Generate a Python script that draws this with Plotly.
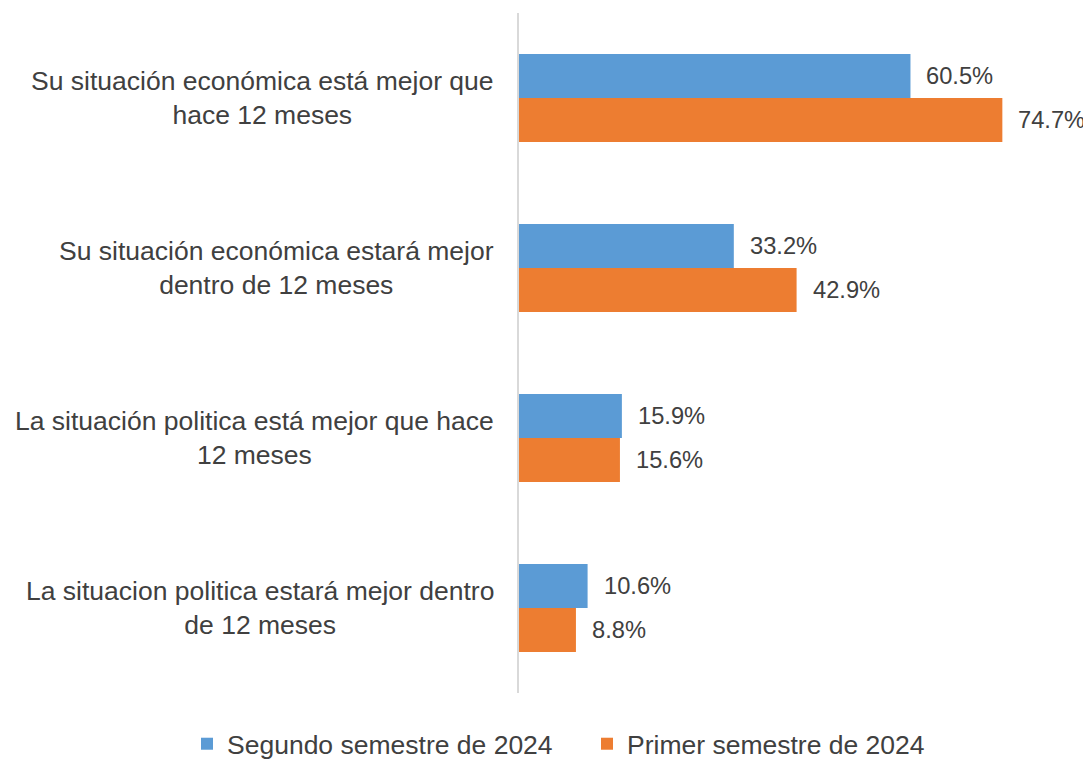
import plotly.graph_objects as go

categories = [
    "Su situación económica está mejor que<br>hace 12 meses",
    "Su situación económica estará mejor<br>dentro de 12 meses",
    "La situación politica está mejor que hace<br>12 meses",
    "La situacion politica estará mejor dentro<br>de 12 meses",
]
series_names = ["Segundo semestre de 2024", "Primer semestre de 2024"]
segundo = [60.5, 33.2, 15.9, 10.6]
primer = [74.7, 42.9, 15.6, 8.8]
colors = ["#5B9BD5", "#ED7D31"]

FONT = "Liberation Sans"
TEXT_COLOR = "#404040"
W, H = 1083, 753  # page body has an 8px margin

fig = go.Figure()
for i, (name, vals, col) in enumerate(zip(series_names, [segundo, primer], colors)):
    fig.add_trace(go.Bar(
        y=categories, x=vals, name=name, orientation="h",
        marker=dict(color=col, line=dict(width=0)),
        legend="legend" if i == 0 else "legend2",
    ))

annotations = []
for c in categories:
    annotations.append(dict(
        xref="paper", x=0, yref="y", y=c, text=c, showarrow=False,
        xanchor="right", align="center", xshift=-23,
        font=dict(family=FONT, size=26.5, color=TEXT_COLOR),
    ))
for vals, shift in zip([segundo, primer], [22, -22]):
    for c, v in zip(categories, vals):
        annotations.append(dict(
            xref="x", x=v, yref="y", y=c, text=f"{v:.1f}%", showarrow=False,
            xanchor="left", xshift=14, yshift=shift,
            font=dict(family=FONT, size=23.7, color=TEXT_COLOR),
        ))

legend_common = dict(orientation="h", xref="container", yref="container",
                     yanchor="middle", y=17 / H, xanchor="left",
                     font=dict(family=FONT, size=26.5, color=TEXT_COLOR),
                     itemwidth=30, bgcolor="rgba(0,0,0,0)")

fig.update_layout(
    width=W, height=H,
    paper_bgcolor="white", plot_bgcolor="white",
    barmode="group", bargap=0.482, bargroupgap=0,
    margin=dict(l=511, r=0, t=5, b=68, autoexpand=False),
    xaxis=dict(range=[0, 88.4], visible=False, showgrid=False, zeroline=False),
    yaxis=dict(autorange="reversed", showticklabels=False, showgrid=False,
               zeroline=False, showline=True, linecolor="#D9D9D9", linewidth=2,
               ticks=""),
    showlegend=True,
    legend=dict(legend_common, x=179 / W),
    legend2=dict(legend_common, x=579 / W),
    annotations=annotations,
)

fig.write_html("out.html")
